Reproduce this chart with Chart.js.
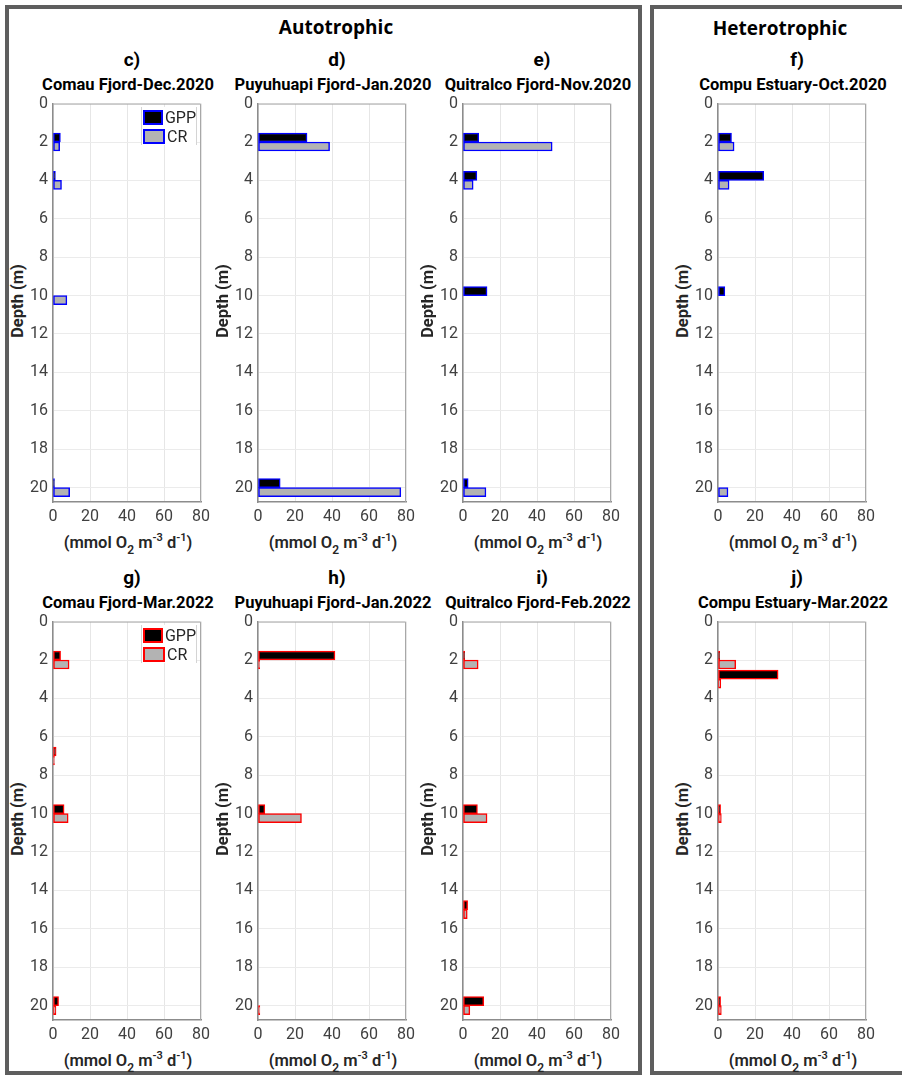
<!DOCTYPE html>
<html>
<head>
<meta charset="utf-8">
<script src="https://cdn.jsdelivr.net/npm/chart.js@4.4.1/dist/chart.umd.min.js"></script>
<style>
    body {margin: 0; width: 902px; height: 1076px; position: relative; overflow: hidden; background: #fff; font-family: Roboto, sans-serif; color: #000;}
    .frame {position: absolute; border: 4px solid #5e5e5e; box-sizing: border-box;}
    .txt {position: absolute; white-space: nowrap; transform: translate(-50%, -50%); font-weight: bold;}
    .big {font-family: 'Open Sans', sans-serif; font-size: 19px;}
    .lab {font-size: 19px;}
    .sub {font-size: 16.5px;}
    .xt {font-size: 16.5px; color: #262626; font-weight: 600;}
    .xt sub {font-size: 12px; vertical-align: -6px;}
    .xt sup {font-size: 11px; vertical-align: 7px;}
    .yt {font-size: 16.5px; color: #262626; transform: translate(-50%, -50%) rotate(-90deg);}
    .holder {position: absolute;}
    .legend {position: absolute; width: 56px; height: 38px; background: #fff; border-left: 1px solid #d4d4d4; border-right: 1px solid #d4d4d4; box-sizing: border-box; font-size: 16px; color: #262626;}
    .legend div {height: 18px; display: flex; align-items: center; margin-top: 1px;}
    .legend span.patch {display: inline-block; width: 18px; height: 11px; border: 2px solid; margin: 0 2px 0 1px;}
</style>
</head>
<body>
<div class="frame" style="left:5px;top:5px;width:637px;height:1070px"></div>
<div class="frame" style="left:650px;top:5px;width:260px;height:1070px"></div>
<div class="txt big" style="left:336px;top:27px">Autotrophic</div>
<div class="txt big" style="left:780px;top:28px">Heterotrophic</div>
<div id="panels"></div>
<script>
// depth (m) of each sample, and GPP / CR rates (mmol O2 m-3 d-1)
const depthC = [2, 4, 10, 20], gppC = [4, 1.3, null, 0.8], crC = [3.6, 4.6, 7.5, 9];
const depthD = [2, 20], gppD = [26.5, 12], crD = [38.7, 77.2];
const depthE = [2, 4, 10, 20], gppE = [8.5, 7.5, 13, 2.8], crE = [48.2, 5.5, null, 12.4];
const depthF = [2, 4, 10, 20], gppF = [7.3, 24.7, 3.7, null], crF = [8.7, 6, null, 5.4];

const depthG = [2, 7, 10, 20], gppG = [4.1, 1.7, 6, 3], crG = [8.7, 0.8, 8.2, 1.6];
const depthH = [2, 10, 20], gppH = [41.6, 3.7, null], crH = [0.9, 23.5, 1];
const depthI = [2, 10, 15, 20], gppI = [0.9, 7.8, 2.5, 11.2], crI = [8.2, 13, 2.3, 3.7];
const depthJ = [2, 3, 10, 20], gppJ = [0.9, 32.5, 1.4, 1.4], crJ = [9.6, 1.5, 1.8, 1.8];

const xTicks = [0, 20, 40, 60, 80];
const depthTicks = [0, 2, 4, 6, 8, 10, 12, 14, 16, 18, 20];

const panels = [
    {lab: 'c)', title: 'Comau Fjord-Dec.2020', depth: depthC, gpp: gppC, cr: crC, col: 0, row: 0, legend: true},
    {lab: 'd)', title: 'Puyuhuapi Fjord-Jan.2020', depth: depthD, gpp: gppD, cr: crD, col: 1, row: 0},
    {lab: 'e)', title: 'Quitralco Fjord-Nov.2020', depth: depthE, gpp: gppE, cr: crE, col: 2, row: 0},
    {lab: 'f)', title: 'Compu Estuary-Oct.2020', depth: depthF, gpp: gppF, cr: crF, col: 3, row: 0},
    {lab: 'g)', title: 'Comau Fjord-Mar.2022', depth: depthG, gpp: gppG, cr: crG, col: 0, row: 1, legend: true},
    {lab: 'h)', title: 'Puyuhuapi Fjord-Jan.2022', depth: depthH, gpp: gppH, cr: crH, col: 1, row: 1},
    {lab: 'i)', title: 'Quitralco Fjord-Feb.2022', depth: depthI, gpp: gppI, cr: crI, col: 2, row: 1},
    {lab: 'j)', title: 'Compu Estuary-Mar.2022', depth: depthJ, gpp: gppJ, cr: crJ, col: 3, row: 1}
];

const plotX = [53, 258, 463, 718], plotTop = [99, 617], plotW = 150, plotH = 403;
const edgeCol = ['#0000ff', '#ff0000'];
const $root = document.getElementById('panels');

const boxPlugin = {
    id: 'box',
    afterDraw(chart) {
        const a = chart.chartArea, c = chart.ctx;
        c.save();
        c.strokeStyle = '#a8a8a8';
        c.lineWidth = 1;
        c.beginPath();
        c.moveTo(a.left, a.top + 0.5);
        c.lineTo(a.right - 0.5, a.top + 0.5);
        c.lineTo(a.right - 0.5, a.bottom);
        c.stroke();
        c.restore();
    }
};

panels.forEach(function (p) {
    const x0 = plotX[p.col], top = plotTop[p.row], edge = edgeCol[p.row], cx = x0 + plotW / 2;
    let html = '';
    html += '<div class="txt lab" style="left:' + (cx + 4) + 'px;top:' + (top - 40) + 'px">' + p.lab + '</div>';
    html += '<div class="txt sub" style="left:' + cx + 'px;top:' + (top - 15) + 'px">' + p.title + '</div>';
    html += '<div class="txt yt" style="left:' + (x0 - 36) + 'px;top:' + (top + plotH / 2) + 'px">Depth (m)</div>';
    html += '<div class="txt xt" style="left:' + cx + 'px;top:' + (top + plotH + 42) + 'px">(mmol O<sub>2</sub> m<sup>-3</sup> d<sup>-1</sup>)</div>';
    html += '<div class="holder" style="left:' + (x0 - 46) + 'px;top:' + (top - 10) + 'px"><canvas width="208" height="' + (plotH + 40) + '"></canvas></div>';
    if (p.legend) {
        html += '<div class="legend" style="left:' + (x0 + 88) + 'px;top:' + (top + 8) + 'px">' +
            '<div><span class="patch" style="background:#000;border-color:' + edge + '"></span>GPP</div>' +
            '<div><span class="patch" style="background:#b3b3b3;border-color:' + edge + '"></span>CR</div></div>';
    }
    const wrap = document.createElement('div');
    wrap.innerHTML = html;
    $root.appendChild(wrap);
    const ctx = wrap.querySelector('canvas');

    new Chart(ctx, {
        type: 'bar',
        data: {
            datasets: [
                {label: 'GPP', data: p.depth.map((d, i) => ({x: p.gpp[i], y: d})), backgroundColor: '#000000', borderColor: edge},
                {label: 'CR', data: p.depth.map((d, i) => ({x: p.cr[i], y: d})), backgroundColor: '#b3b3b3', borderColor: edge}
            ]
        },
        options: {
            responsive: false,
            animation: false,
            indexAxis: 'y',
            layout: {padding: {top: 10, right: 12, left: 0, bottom: 0}},
            datasets: {bar: {barThickness: 9, borderWidth: 1.5, borderSkipped: false}},
            plugins: {legend: {display: false}, tooltip: {enabled: false}},
            scales: {
                x: {
                    type: 'linear', min: 0, max: 80,
                    afterFit: function (s) { s.height = 30; },
                    afterBuildTicks: function (s) { s.ticks = xTicks.map(v => ({value: v})); },
                    ticks: {padding: 5, color: '#404040', font: {family: 'Roboto', size: 16}},
                    grid: {color: '#e6e6e6', drawTicks: false},
                    border: {color: '#8c8c8c', width: 1.5}
                },
                y: {
                    type: 'linear', min: 0, max: 20.75, reverse: true, offset: false,
                    afterFit: function (s) { s.width = 46; },
                    afterBuildTicks: function (s) { s.ticks = depthTicks.map(v => ({value: v})); },
                    ticks: {padding: 5, color: '#404040', font: {family: 'Roboto', size: 16}},
                    grid: {color: '#ebebeb', drawTicks: false, offset: false},
                    border: {color: '#8c8c8c', width: 1.5}
                }
            }
        },
        plugins: [boxPlugin]
    });
});
</script>
</body>
</html>
